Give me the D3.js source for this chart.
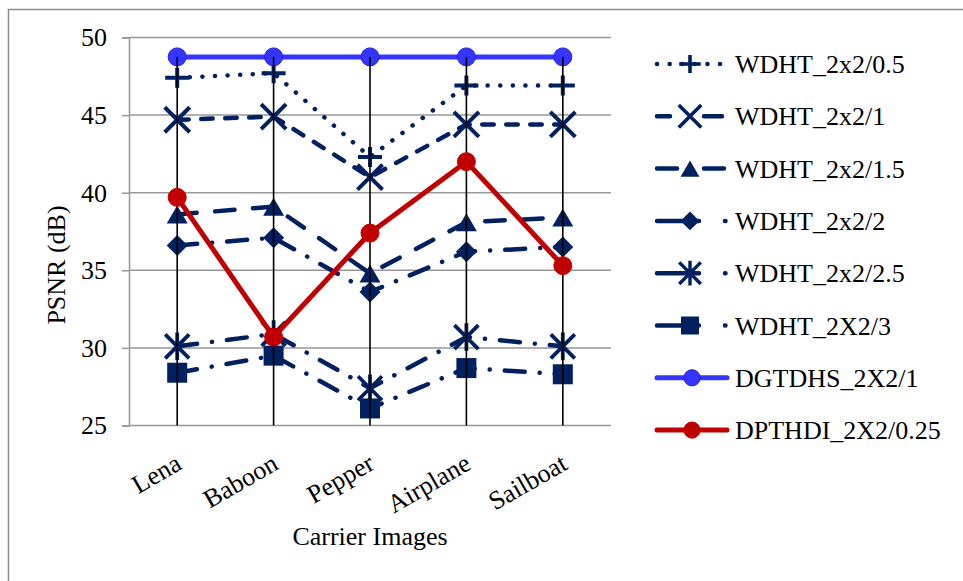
<!DOCTYPE html>
<html>
<head>
<meta charset="utf-8">
<script src="https://cdn.jsdelivr.net/npm/d3@7"></script>
<style>
  html, body { margin: 0; padding: 0; background: #fff; }
  svg { display: block; font-family: "Liberation Serif", "Times New Roman", serif; }
</style>
</head>
<body>
<svg id="chart" width="963" height="581"></svg>
<script>
// Carrier images on the x axis
const categories = ["Lena", "Baboon", "Pepper", "Airplane", "Sailboat"];

// PSNR (dB) per scheme
const wdht05  = [47.4, 47.7, 42.3, 46.9, 46.9];
const wdht1   = [44.7, 44.9, 41.0, 44.4, 44.4];
const wdht15  = [38.6, 39.1, 34.8, 38.1, 38.4];
const wdht2   = [36.6, 37.1, 33.6, 36.2, 36.5];
const wdht25  = [30.1, 30.9, 27.4, 30.7, 30.1];
const wdht3   = [28.4, 29.5, 26.1, 28.7, 28.3];
const dgtdhs  = [48.75, 48.75, 48.75, 48.75, 48.75];
const dpthdi  = [39.7, 30.7, 37.4, 42.0, 35.3];

const seriesNames = ["WDHT_2x2/0.5", "WDHT_2x2/1", "WDHT_2x2/1.5", "WDHT_2x2/2",
                     "WDHT_2x2/2.5", "WDHT_2X2/3", "DGTDHS_2X2/1", "DPTHDI_2X2/0.25"];
const seriesValues = [wdht05, wdht1, wdht15, wdht2, wdht25, wdht3, dgtdhs, dpthdi];
const yTicks = [25, 30, 35, 40, 45, 50];

const NAVY = "#002060", BLUE = "#3535FF", RED = "#C00000";

// line look per series
const styles = [
  { color: NAVY, dash: "0.1 12.5",     legendDash: "0.1 12.5",       marker: "plus" },
  { color: NAVY, dash: "11.5 12.5",    legendDash: "13 34 18 100",   marker: "cross" },
  { color: NAVY, dash: "19.5 18.5",    legendDash: "20 27 20 100",   marker: "triangle" },
  { color: NAVY, dash: "20 15 0.1 15", legendDash: "42 26 0.5 100",  marker: "diamond" },
  { color: NAVY, dash: "20 15 0.1 15", legendDash: "42 26 0.5 100",  marker: "asterisk" },
  { color: NAVY, dash: "20 15 0.1 15", legendDash: "42 26 0.5 100",  marker: "square" },
  { color: BLUE, dash: null,           legendDash: null,             marker: "circle" },
  { color: RED,  dash: null,           legendDash: null,             marker: "circle" }
];

const svg = d3.select("#chart");

// outer frame
svg.append("rect").attr("x", 8.5).attr("y", 9.5).attr("width", 1000).attr("height", 700)
  .attr("fill", "none").attr("stroke", "#8c8c8c").attr("stroke-width", 1.5);

const plot = { left: 129, right: 611, top: 37.5, bottom: 425.5 };

const x = d3.scaleBand().domain(categories).range([plot.left, plot.right]);
const cx = c => x(c) + x.bandwidth() / 2;
const y = d3.scaleLinear().domain([25, 50]).range([plot.bottom, plot.top]);

// horizontal gridlines
svg.append("g").selectAll("line").data(yTicks.slice(1)).join("line")
  .attr("x1", plot.left).attr("x2", plot.right)
  .attr("y1", d => y(d)).attr("y2", d => y(d))
  .attr("stroke", "#979797").attr("stroke-width", 1.5);

// y axis
const yAxis = svg.append("g").attr("transform", `translate(${plot.left},0)`)
  .call(d3.axisLeft(y).tickValues(yTicks).tickSize(7).tickPadding(15).tickFormat(d3.format("d")));
yAxis.select(".domain").attr("stroke", "#979797").attr("stroke-width", 1.5);
yAxis.selectAll(".tick line").attr("stroke", "#979797").attr("stroke-width", 1.5);
yAxis.selectAll(".tick text").attr("font-size", 26).attr("fill", "#000")
  .attr("font-family", "Liberation Serif, serif");

// x axis baseline
svg.append("line").attr("x1", plot.left).attr("x2", plot.right)
  .attr("y1", plot.bottom).attr("y2", plot.bottom)
  .attr("stroke", "#979797").attr("stroke-width", 1.5);

// category labels
svg.append("g").selectAll("text").data(categories).join("text")
  .attr("transform", d => `translate(${cx(d) - 3},${plot.bottom + 27}) rotate(-30)`)
  .attr("text-anchor", "end").attr("dy", "0.7em")
  .attr("font-size", 26).attr("fill", "#000")
  .text(d => d);

// axis titles
svg.append("text").attr("x", 370).attr("y", 545).attr("text-anchor", "middle")
  .attr("font-size", 26).attr("fill", "#000").text("Carrier Images");
svg.append("text").attr("transform", "translate(65,265) rotate(-90)")
  .attr("text-anchor", "middle").attr("font-size", 26).attr("fill", "#000").text("PSNR (dB)");

// marker shapes
function drawMarker(g, type, color, k) {
  const sw = 4 * Math.max(k, 0.8);
  if (type === "plus") {
    g.append("path").attr("d", `M${-12*k},0H${12*k}M0,${-10*k}V${10*k}`)
      .attr("stroke", color).attr("stroke-width", sw).attr("fill", "none");
  } else if (type === "cross") {
    const s = 12.5 * k;
    g.append("path").attr("d", `M${-s},${-s}L${s},${s}M${-s},${s}L${s},${-s}`)
      .attr("stroke", color).attr("stroke-width", sw).attr("fill", "none");
  } else if (type === "asterisk") {
    const s = 12 * k;
    g.append("path").attr("d", `M${-s},${-s}L${s},${s}M${-s},${s}L${s},${-s}M0,${-s * 1.15}V${s * 1.15}`)
      .attr("stroke", color).attr("stroke-width", sw * 0.95).attr("fill", "none");
  } else if (type === "triangle") {
    const w = 10.5 * k, h = 9 * k;
    g.append("path").attr("d", `M0,${-h}L${w},${h}L${-w},${h}Z`).attr("fill", color);
  } else if (type === "diamond") {
    const s = 10.5 * k;
    g.append("path").attr("d", `M0,${-s}L${s},0L0,${s}L${-s},0Z`).attr("fill", color);
  } else if (type === "square") {
    const s = 10 * k;
    g.append("rect").attr("x", -s).attr("y", -s).attr("width", 2 * s).attr("height", 2 * s)
      .attr("fill", color);
  } else if (type === "circle") {
    g.append("circle").attr("r", 9 * k).attr("fill", color)
      .attr("stroke", color === BLUE ? "#1f1fe0" : color).attr("stroke-width", 1);
  }
}

const line = d3.line().x((d, i) => cx(categories[i])).y(d => y(d));

function drawSeries(idx) {
  const st = styles[idx];
  const vals = seriesValues[idx];
  const g = svg.append("g");
  g.append("path").attr("d", line(vals)).attr("fill", "none")
    .attr("stroke", st.color).attr("stroke-width", idx >= 6 ? 5 : 4.5)
    .attr("stroke-linecap", "round").attr("stroke-linejoin", "round")
    .attr("stroke-dasharray", st.dash);
  vals.forEach((v, i) => {
    const m = g.append("g").attr("transform", `translate(${cx(categories[i])},${y(v)})`);
    drawMarker(m, st.marker, st.color, 1);
  });
}

// navy and blue series first
for (let i = 0; i < 7; i++) drawSeries(i);

// drop lines from the highest point of each category to the axis
const tops = categories.map((c, i) => d3.max(seriesValues, s => s[i]));
svg.append("g").selectAll("line").data(categories).join("line")
  .attr("x1", d => cx(d)).attr("x2", d => cx(d))
  .attr("y1", (d, i) => y(tops[i])).attr("y2", plot.bottom)
  .attr("stroke", "#000").attr("stroke-width", 1.6);

drawSeries(7);

// legend
const legend = svg.append("g");
seriesNames.forEach((name, i) => {
  const st = styles[i];
  const ly = 64 + i * 52.3;
  const row = legend.append("g").attr("transform", `translate(0,${ly})`);
  const endX = i >= 6 ? 727 : (i >= 3 ? 730 : 725);
  row.append("line").attr("x1", 657).attr("x2", endX)
    .attr("stroke", st.color).attr("stroke-width", i >= 6 ? 5 : 4.5)
    .attr("stroke-linecap", "round").attr("stroke-dasharray", st.legendDash);
  const m = row.append("g").attr("transform", `translate(${i >= 6 ? 692 : 690},0)`);
  drawMarker(m, st.marker, st.color, 0.9);
  row.append("text").attr("x", 735).attr("y", 0).attr("dy", "0.35em")
    .attr("font-size", 26).attr("fill", "#000").text(name);
});
</script>
</body>
</html>
